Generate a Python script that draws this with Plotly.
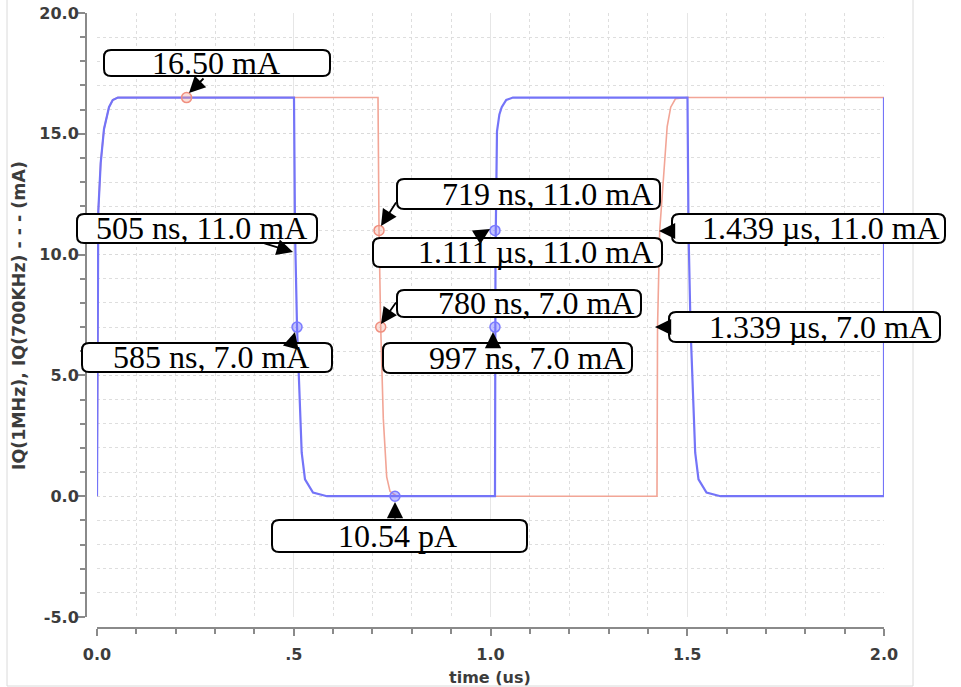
import plotly.graph_objects as go

# ---------------- data (time in us, current in mA) ----------------
T_1MHZ = [0.0, 0.002, 0.0033, 0.0094, 0.0178, 0.0305, 0.040, 0.053,
          0.5006, 0.5018, 0.5032, 0.5083, 0.5159, 0.5202, 0.5286, 0.5489, 0.5845,
          1.0114, 1.0127, 1.0140, 1.0165, 1.0226, 1.0285, 1.040, 1.057,
          1.5006, 1.5018, 1.5032, 1.5083, 1.5159, 1.5202, 1.5286, 1.5489, 1.5845,
          2.0, 2.0]
I_1MHZ = [0.0, 8.0, 11.8, 13.8, 15.2, 16.1, 16.4, 16.5,
          16.5, 14.0, 11.0, 7.0, 3.2, 1.8, 0.7, 0.15, 0.0,
          0.0, 10.0, 13.5, 15.1, 15.8, 16.1, 16.4, 16.5,
          16.5, 14.0, 11.0, 7.0, 3.2, 1.8, 0.7, 0.15, 0.0,
          0.0, 16.5]

T_700K = [0.0, 0.002, 0.0033, 0.0094, 0.0178, 0.0305, 0.040, 0.053,
          0.7141, 0.7167, 0.7210, 0.7276, 0.7319, 0.7362, 0.7446, 0.7616,
          1.4231, 1.4245, 1.4300, 1.4360, 1.4420, 1.4490, 1.4580, 1.4700, 1.4986, 2.0]
I_700K = [0.0, 8.0, 11.8, 13.8, 15.2, 16.1, 16.4, 16.5,
          16.5, 11.0, 7.0, 3.2, 1.8, 0.8, 0.2, 0.0,
          0.0, 7.0, 11.0, 12.5, 14.0, 15.3, 16.1, 16.45, 16.5, 16.5]

MARK_1MHZ_T = [0.5083, 1.0114, 1.0114, 0.7573]
MARK_1MHZ_I = [7.0, 11.0, 7.0, 0.0]
MARK_700K_T = [0.2277, 0.7167, 0.7210]
MARK_700K_I = [16.5, 11.0, 7.0]

LABELS = ["16.50 mA", "505 ns, 11.0 mA", "585 ns, 7.0 mA", "719 ns, 11.0 mA",
          "1.111 µs, 11.0 mA", "780 ns, 7.0 mA", "997 ns, 7.0 mA",
          "1.439 µs, 11.0 mA", "1.339 µs, 7.0 mA", "10.54 pA"]

X_TICKS = [0.0, 0.5, 1.0, 1.5, 2.0]
X_TICK_LABELS = ["0.0", ".5", "1.0", "1.5", "2.0"]
Y_TICKS = [-5, 0, 5, 10, 15, 20]
Y_TICK_LABELS = ["-5.0", "0.0", "5.0", "10.0", "15.0", "20.0"]

X_TITLE = "time (us)"
Y_TITLE = "IQ(1MHz), IQ(700KHz) - - - (mA)"

# ---------------- layout geometry (pixels) ----------------
W, H = 961, 687
ML, MR, MT, MB = 86, 77, 13, 59
PW, PH = W - ML - MR, H - MT - MB


def px(x):
    return (x - ML) / PW


def py(y):
    return (H - MB - y) / PH


# label boxes (x0, y0, x1, y1) and text anchor (x, y, align)
BOXES = [(104, 50, 330, 76), (77, 214, 317, 243), (82, 343, 332, 372),
         (397, 179, 660, 209), (373, 238, 662, 267), (397, 290, 641, 317),
         (383, 343, 632, 373), (672, 214, 945, 243), (669, 312, 940, 342),
         (272, 520, 527, 552)]
TEXT_POS = [(216, 63, "center"), (201, 228, "center"), (211, 357, "center"),
            (655, 194, "right"), (655, 252, "right"), (636, 303, "right"),
            (627, 358, "right"), (942, 228, "right"), (934, 327, "right"),
            (397, 536, "center")]
# arrows: tail (x, y) -> head (x, y)
ARROWS = [((205, 77), (189, 93)), ((263, 243), (293, 252)), ((292, 343), (295, 332)),
          ((397, 201), (381, 226)), ((475, 238), (490, 229)), ((397, 301), (381, 324)),
          ((493, 343), (493, 332)), ((672, 231), (659, 231)), ((669, 327), (655, 327)),
          ((395, 520), (395, 502))]

BLUE = "#7474f8"
RED = "#f2a596"
AXIS = "#8a8a8a"
TICKFONT = dict(family="DejaVu Sans", size=16, color="#3c3c3c", weight="bold")

fig = go.Figure()
fig.add_trace(go.Scatter(x=T_700K, y=I_700K, mode="lines",
                         line=dict(color=RED, width=1.6), hoverinfo="skip"))
fig.add_trace(go.Scatter(x=T_1MHZ, y=I_1MHZ, mode="lines",
                         line=dict(color=BLUE, width=2.2), hoverinfo="skip"))
fig.add_trace(go.Scatter(x=MARK_700K_T, y=MARK_700K_I, mode="markers",
                         marker=dict(size=10, color="rgba(244,165,150,0.35)",
                                     line=dict(color="#f08f7f", width=1.5)),
                         hoverinfo="skip"))
fig.add_trace(go.Scatter(x=MARK_1MHZ_T, y=MARK_1MHZ_I, mode="markers",
                         marker=dict(size=10, color="rgba(120,120,255,0.45)",
                                     line=dict(color="#7b7bff", width=1.5)),
                         hoverinfo="skip"))


def rounded_path(x0, y0, x1, y1, r=7):
    X0, X1 = px(x0), px(x1)
    Y0, Y1 = py(y0), py(y1)  # Y0 top, Y1 bottom (paper)
    rx, ry = r / PW, r / PH
    return (f"M {X0+rx},{Y0} L {X1-rx},{Y0} Q {X1},{Y0} {X1},{Y0-ry} "
            f"L {X1},{Y1+ry} Q {X1},{Y1} {X1-rx},{Y1} "
            f"L {X0+rx},{Y1} Q {X0},{Y1} {X0},{Y1+ry} "
            f"L {X0},{Y0-ry} Q {X0},{Y0} {X0+rx},{Y0} Z")


shapes = []
# faint outer frame of the original screenshot
for (xa, ya, xb, yb) in [(7, 0, 7, 686), (7, 686, 913, 686), (913, 0, 913, 686)]:
    shapes.append(dict(type="line", xref="paper", yref="paper",
                       x0=px(xa), y0=py(ya), x1=px(xb), y1=py(yb),
                       line=dict(color="#dadada", width=1), layer="below"))
for b in BOXES:
    shapes.append(dict(type="path", xref="paper", yref="paper",
                       path=rounded_path(*b), fillcolor="white",
                       line=dict(color="black", width=2), layer="above"))

annotations = []
for lab, (tx, ty, al) in zip(LABELS, TEXT_POS):
    annotations.append(dict(xref="paper", yref="paper", x=px(tx), y=py(ty),
                            text=lab, showarrow=False, xanchor=al, yanchor="middle",
                            font=dict(family="Liberation Serif", size=32, color="black")))
for (tail, head) in ARROWS:
    annotations.append(dict(xref="paper", yref="paper", x=px(head[0]), y=py(head[1]),
                            ax=tail[0] - head[0], ay=tail[1] - head[1],
                            text="", showarrow=True, arrowhead=2, arrowsize=1.8,
                            arrowwidth=1.8, arrowcolor="black", standoff=0))
annotations.append(dict(xref="paper", yref="paper", x=px(490), y=py(677),
                        text=X_TITLE, showarrow=False, xanchor="center", yanchor="middle",
                        font=TICKFONT))
annotations.append(dict(xref="paper", yref="paper", x=px(19), y=py(316),
                        text=Y_TITLE, showarrow=False, textangle=-90,
                        xanchor="center", yanchor="middle",
                        font=dict(family="DejaVu Sans", size=17.4, color="#3c3c3c",
                                  weight="bold")))

fig.update_layout(
    width=W, height=H,
    margin=dict(l=ML, r=MR, t=MT, b=MB, pad=0, autoexpand=False),
    paper_bgcolor="white", plot_bgcolor="white",
    showlegend=False, hovermode=False,
    shapes=shapes, annotations=annotations,
    xaxis=dict(range=[0, 2.0], domain=[px(97), 1], anchor="free", position=0,
               automargin=False,
               tickmode="array", tickvals=X_TICKS, ticktext=X_TICK_LABELS,
               ticks="outside", ticklen=7, tickwidth=1.5, tickcolor=AXIS,
               showline=True, linecolor=AXIS, linewidth=2, zeroline=False,
               showgrid=True, gridcolor="#e6e6e6", gridwidth=1,
               tickfont=TICKFONT, ticklabelstandoff=5,
               minor=dict(tickmode="linear", tick0=0, dtick=0.1, ticks="outside",
                          ticklen=5, tickwidth=1.5, tickcolor=AXIS, showgrid=True,
                          gridcolor="#dedede", griddash="dot", gridwidth=1)),
    yaxis=dict(range=[-5, 20], domain=[py(617), 1], anchor="free", position=0,
               automargin=False,
               tickmode="array", tickvals=Y_TICKS, ticktext=Y_TICK_LABELS,
               ticks="outside", ticklen=7, tickwidth=1.5, tickcolor=AXIS,
               showline=True, linecolor=AXIS, linewidth=2, zeroline=False,
               showgrid=True, gridcolor="#dadada", griddash="dot", gridwidth=1,
               tickfont=TICKFONT, ticklabelstandoff=-4,
               minor=dict(tickmode="linear", tick0=0, dtick=1, ticks="outside",
                          ticklen=5, tickwidth=1.5, tickcolor=AXIS, showgrid=True,
                          gridcolor="#dedede", griddash="dot", gridwidth=1)),
)

fig.write_html("out.html")
